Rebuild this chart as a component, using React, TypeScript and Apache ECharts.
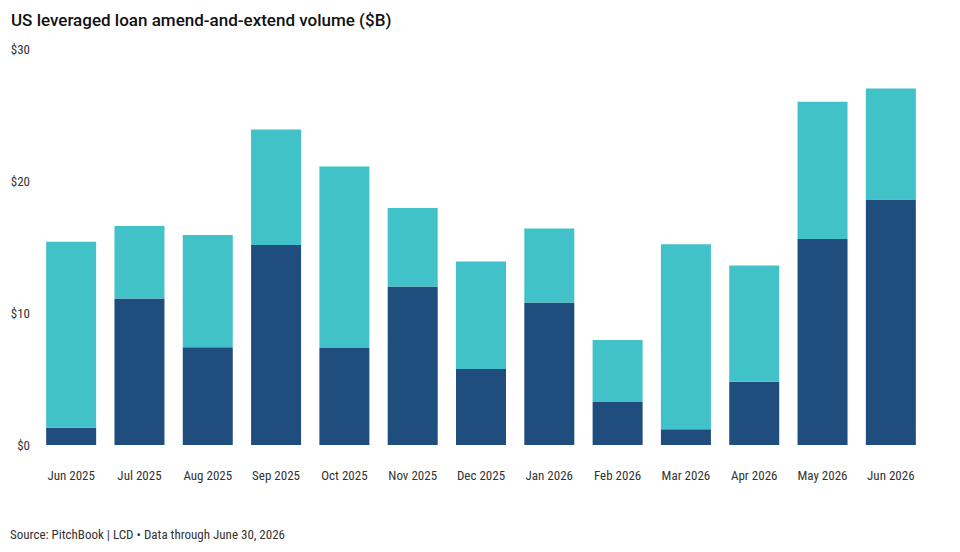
import React, { useEffect, useRef } from "react";
import * as echarts from "echarts";

const categories = [
  "Jun 2025", "Jul 2025", "Aug 2025", "Sep 2025", "Oct 2025", "Nov 2025", "Dec 2025",
  "Jan 2026", "Feb 2026", "Mar 2026", "Apr 2026", "May 2026", "Jun 2026",
];
const darkValues = [1.3, 11.1, 7.4, 15.15, 7.35, 12.0, 5.75, 10.8, 3.3, 1.2, 4.8, 15.6, 18.6];
const tealValues = [14.1, 5.5, 8.5, 8.75, 13.75, 5.95, 8.15, 5.6, 4.65, 14.0, 8.8, 10.4, 8.4];
const yTicks = [0, 10, 20, 30];

const labelFont = "'Liberation Sans Narrow', 'Roboto Condensed', Roboto, sans-serif";

export default function App() {
  const ref = useRef<HTMLDivElement>(null);
  useEffect(() => {
    if (!ref.current) return;
    const chart = echarts.init(ref.current, null, { renderer: "svg" });
    chart.setOption({
      animation: false,
      backgroundColor: "#ffffff",
      title: {
        text: "US leveraged loan amend-and-extend volume ($B)",
        left: 6,
        top: 6,
        textStyle: { fontFamily: "Roboto, sans-serif", fontSize: 17, fontWeight: 500, color: "#111111" },
      },
      grid: { left: 37, right: 35, top: 49, bottom: 107 },
      xAxis: {
        type: "category",
        data: categories,
        axisLine: { show: false },
        axisTick: { show: false },
        axisLabel: { color: "#333333", fontSize: 13, fontFamily: labelFont, margin: 24 },
      },
      yAxis: {
        type: "value",
        min: yTicks[0],
        max: yTicks[yTicks.length - 1],
        interval: 10,
        splitLine: { show: false },
        axisLine: { show: false },
        axisTick: { show: false },
        axisLabel: {
          color: "#333333",
          fontSize: 13,
          fontFamily: labelFont,
          margin: 7,
          formatter: (v: number) => "$" + v,
        },
      },
      series: [
        {
          type: "bar",
          stack: "total",
          data: darkValues,
          barWidth: 50,
          itemStyle: { color: "#1f4e7e" },
        },
        {
          type: "bar",
          stack: "total",
          data: tealValues,
          barWidth: 50,
          itemStyle: { color: "#41c1c8" },
        },
      ],
      graphic: [
        {
          type: "text",
          left: 10,
          top: 528,
          style: {
            text: "Source: PitchBook | LCD • Data through June 30, 2026",
            fontSize: 13,
            fontFamily: labelFont,
            fill: "#333333",
          },
        },
      ],
    });
    return () => chart.dispose();
  }, []);
  return (
    <div
      ref={ref}
      style={{ position: "absolute", left: 0, top: 0, width: 960, height: 552 }}
    />
  );
}
